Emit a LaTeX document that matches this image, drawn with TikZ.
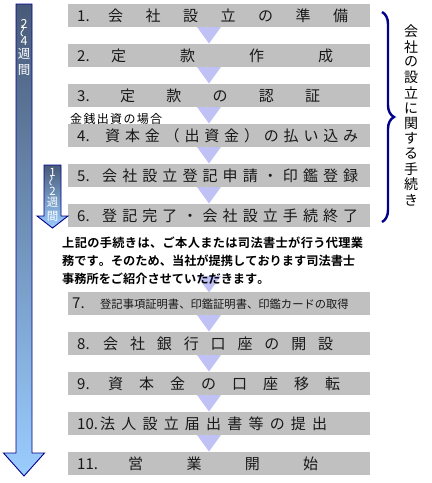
\documentclass[tikz,border=0pt]{standalone}
\usepackage{fontspec}
\setmainfont{Noto Sans CJK JP}[BoldFont={Noto Sans CJK JP Bold}]
\usetikzlibrary{decorations.pathreplacing}
\ExplSyntaxOn
\NewDocumentCommand\sprd{m}{\tl_map_inline:nn{#1}{##1\hfill}\unskip}
\ExplSyntaxOff
\definecolor{boxgray}{RGB}{192,192,192}
\definecolor{trib}{RGB}{192,194,246}
\definecolor{navyb}{RGB}{0,0,140}
\definecolor{adark}{RGB}{72,90,120}
\definecolor{alight}{RGB}{155,205,255}
\tikzset{
  stepbox/.style={fill=boxgray, minimum width=302pt, minimum height=23pt, inner sep=0pt, draw=none},
  steptext/.style={anchor=west, inner sep=0pt, font=\fontsize{15}{15}\selectfont, text=black!90},
  tridown/.style={fill=trib, draw=none},
  paratext/.style={anchor=west, inner sep=0pt, font=\fontsize{12.2}{13}\selectfont\bfseries},
  arrowshape/.style={top color=adark, bottom color=alight, draw=navyb, line width=0.9pt, line join=miter},
  vlabel/.style={text=white, inner sep=0pt},
  bracechar/.style={inner sep=0pt, font=\fontsize{14}{14}\selectfont},
}
\begin{document}
\begin{tikzpicture}[x=1pt,y=-1pt]
\useasboundingbox (0,0) rectangle (432,483);
% triangles (behind)
\foreach \t in {27,67,107,147,187,276,315,355,395,435}{
  \fill[tridown] (197,\t) -- (221,\t) -- (209,\t+16.5) -- cycle;
}
% boxes
\foreach \n/\yt in {1/4,2/44,3/84,4/124,5/164,6/204,7/292,8/332,9/372,10/412,11/452}{
  \node[stepbox] (b\n) at (219,\yt+11.5) {};
}
% box texts
\node[steptext] (t1) at (77,15.5) {\makebox[31pt][l]{1.}\hbox to 240pt{\sprd{会社設立の準備}}};
\node[steptext] (t2) at (77,55.5) {\makebox[34pt][l]{2.}\hbox to 222pt{\sprd{定款作成}}};
\node[steptext] (t3) at (77,95.5) {\makebox[43pt][l]{3.}\hbox to 200pt{\sprd{定款の認証}}};
\node[steptext] (t4) at (77,135.5) {\makebox[28pt][l]{4.}\hbox to 253pt{\sprd{資本金（出資金）の払い込み}}};
\node[steptext] (t5) at (77,175.5) {\makebox[25pt][l]{5.}\hbox to 256pt{\sprd{会社設立登記申請・印鑑登録}}};
\node[steptext] (t6) at (77,215.5) {\makebox[25pt][l]{6.}\hbox to 256pt{\sprd{登記完了・会社設立手続終了}}};
\node[steptext] (t7) at (72,303.5) {\makebox[28pt][l]{7.}\hbox to 248pt{\fontsize{11.3}{12}\selectfont\sprd{登記事項証明書、印鑑証明書、印鑑カードの取得}}};
\node[steptext] (t8) at (77,343.5) {\makebox[26pt][l]{8.}\hbox to 230pt{\sprd{会社銀行口座の開設}}};
\node[steptext] (t9) at (77,383.5) {\makebox[31pt][l]{9.}\hbox to 232pt{\sprd{資本金の口座移転}}};
\node[steptext] (t10) at (77,423.5) {\makebox[23pt][l]{10.}\hbox to 227pt{\sprd{法人設立届出書等の提出}}};
\node[steptext] (t11) at (77,463.5) {\makebox[51pt][l]{11.}\hbox to 190pt{\sprd{営業開始}}};
% small label
\node[anchor=west, inner sep=0pt, font=\fontsize{12}{12}\selectfont] (lab) at (70,119) {\hbox to 92pt{\sprd{金銭出資の場合}}};
% paragraph
\node[paratext] (p1) at (62,243) {\hbox to 301pt{\sprd{上記の手続きは、ご本人または司法書士が行う代理業}}};
\node[paratext] (p2) at (62,261) {\hbox to 293pt{\sprd{務です。そのため、当社が提携しております司法書士}}};
\node[paratext] (p3) at (62,279) {\hbox to 206pt{\sprd{事務所をご紹介させていただきます。}}};
% big arrow
\shadedraw[arrowshape] (16,4) -- (32,4) -- (32,453) -- (44.5,453) -- (24,476) -- (3.5,453) -- (16,453) -- cycle;
\foreach \c/\yy [count=\i] in {2/23.5,\rotatebox{90}{〜}/31.5,4/41,週/53.5,間/70}{
  \node[vlabel, font=\fontsize{12.5}{12.5}\selectfont] (wa\i) at (24,\yy) {\c};
}
% small arrow
\shadedraw[arrowshape] (44,165) -- (61,165) -- (61,216) -- (68,216) -- (52.5,228) -- (37,216) -- (44,216) -- cycle;
\foreach \c/\yy [count=\i] in {1/172,\rotatebox{90}{〜}/181,2/191,週/202.5,間/216}{
  \node[vlabel, font=\fontsize{11.5}{11.5}\selectfont] (wb\i) at (52.5,\yy) {\c};
}
% brace
\coordinate (bra) at (382,12);
\coordinate (brb) at (382,222);
\draw[navyb, line width=2.4pt, decorate, decoration={brace, amplitude=12pt}] (bra) -- (brb);
\foreach \c [count=\i] in {会,社,の,設,立,に,関,す,る,手,続,き}{
  \node[bracechar] (bc\i) at (411,{31.5+(\i-1)*15.3}) {\c};
}
\end{tikzpicture}
\end{document}
